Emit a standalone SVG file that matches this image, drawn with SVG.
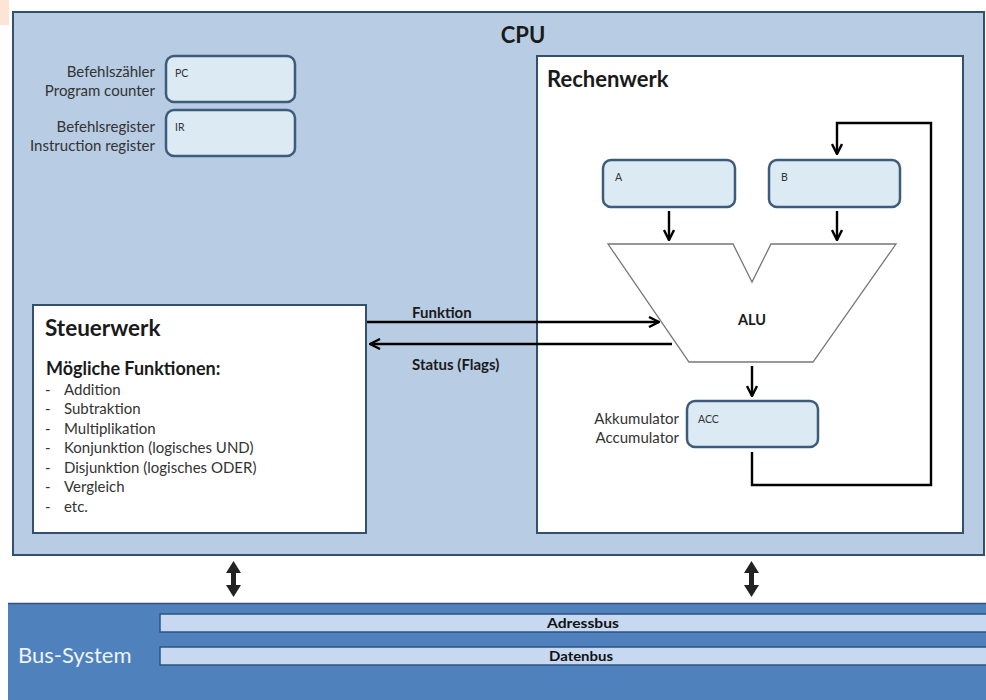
<svg xmlns="http://www.w3.org/2000/svg" width="986" height="700" viewBox="0 0 986 700">
<defs>
<style>
text{font-family:Lato,"Open Sans","Liberation Sans",sans-serif;fill:#1a1a1a}
.reg{fill:#dbeaf3;stroke:#3e5b7c;stroke-width:2.5}
.lbl{font-size:15px;text-anchor:end;fill:#333}
.small{font-size:10.5px;fill:#333}
.b{font-weight:bold}
.wire{fill:none;stroke:#000;stroke-width:2.4}
.item{font-size:15px;fill:#333}
.bar{fill:#c6d9f0;stroke:#2f5384;stroke-width:1.5}
.bartxt{font-size:13px;font-weight:bold;fill:#111}
</style>
<marker id="ah" viewBox="0 0 12 12" refX="11" refY="6" markerWidth="12" markerHeight="12" markerUnits="userSpaceOnUse" orient="auto">
<path d="M1,1 L11,6 L1,11" fill="none" stroke="#000" stroke-width="2.4"/>
</marker>
</defs>
<rect x="0" y="0" width="986" height="700" fill="#ffffff"/>
<rect x="0" y="0" width="9" height="25" fill="#fde4d4"/>
<g id="cpu">
<rect x="13" y="12" width="971" height="543" fill="#b8cce4" stroke="#34506f" stroke-width="2"/>
<text x="523" y="43" font-size="22" class="b" text-anchor="middle">CPU</text>
</g>
<g id="pc">
<text class="lbl" x="155" y="77">Befehlszähler</text>
<text class="lbl" x="155" y="96">Program counter</text>
<rect class="reg" x="166" y="56" width="129" height="46" rx="8"/>
<text class="small" x="175" y="77">PC</text>
</g>
<g id="ir">
<text class="lbl" x="155" y="132">Befehlsregister</text>
<text class="lbl" x="155" y="151">Instruction register</text>
<rect class="reg" x="166" y="110" width="129" height="46" rx="8"/>
<text class="small" x="175" y="131">IR</text>
</g>
<g id="rechenwerk">
<rect x="537" y="56" width="426" height="477" fill="#ffffff" stroke="#34506f" stroke-width="2"/>
<text x="547" y="87" font-size="22" class="b">Rechenwerk</text>
</g>
<g id="regA">
<rect class="reg" x="603" y="160" width="132" height="47" rx="8"/>
<text class="small" x="615" y="181">A</text>
</g>
<g id="regB">
<rect class="reg" x="769" y="160" width="131" height="47" rx="8"/>
<text class="small" x="781" y="181">B</text>
</g>
<g id="alu">
<polygon points="608,244 733,244 752,282 771,244 896,244 813,362 689,362" fill="#ffffff" stroke="#777" stroke-width="1.3"/>
<text x="752" y="325" font-size="14.5" class="b" text-anchor="middle">ALU</text>
</g>
<g id="acc">
<text class="lbl" x="679" y="424">Akkumulator</text>
<text class="lbl" x="679" y="443">Accumulator</text>
<rect class="reg" x="687" y="401" width="131" height="46" rx="8"/>
<text class="small" x="698" y="423">ACC</text>
</g>
<g id="steuerwerk">
<rect x="33" y="305" width="333" height="228" fill="#ffffff" stroke="#34506f" stroke-width="2"/>
<text x="45" y="336" font-size="22.5" class="b">Steuerwerk</text>
<text x="46" y="375" font-size="18" class="b">Mögliche Funktionen:</text>
<text x="45" y="395" class="item">-</text><text x="64" y="395" class="item">Addition</text>
<text x="45" y="414" class="item">-</text><text x="64" y="414" class="item">Subtraktion</text>
<text x="45" y="434" class="item">-</text><text x="64" y="434" class="item">Multiplikation</text>
<text x="45" y="453" class="item">-</text><text x="64" y="453" class="item">Konjunktion  (logisches UND)</text>
<text x="45" y="473" class="item">-</text><text x="64" y="473" class="item">Disjunktion (logisches ODER)</text>
<text x="45" y="492" class="item">-</text><text x="64" y="492" class="item">Vergleich</text>
<text x="45" y="512" class="item">-</text><text x="64" y="512" class="item">etc.</text>
</g>
<g id="bus">
<rect x="8" y="603" width="978" height="97" fill="#4f81bd"/>
<line x1="8" y1="603.5" x2="986" y2="603.5" stroke="#2f5384" stroke-width="1.5"/>
<text x="18" y="663" font-size="22" style="fill:#eef3fa">Bus-System</text>
<rect class="bar" x="160" y="614" width="830" height="18"/>
<text class="bartxt" x="547" y="628" textLength="72" lengthAdjust="spacingAndGlyphs">Adressbus</text>
<rect class="bar" x="160" y="647" width="830" height="18"/>
<text class="bartxt" x="549" y="661" textLength="64" lengthAdjust="spacingAndGlyphs">Datenbus</text>
</g>
<g id="connectors">
<line class="wire" x1="669" y1="211" x2="669" y2="240" marker-end="url(#ah)"/>
<line class="wire" x1="837" y1="211" x2="837" y2="240" marker-end="url(#ah)"/>
<line class="wire" x1="752" y1="366" x2="752" y2="396" marker-end="url(#ah)"/>
<polyline class="wire" points="752,452 752,485 931,485 931,123 837,123 837,154" marker-end="url(#ah)"/>
<line class="wire" x1="367" y1="322" x2="659" y2="322" marker-end="url(#ah)"/>
<line class="wire" x1="672" y1="344" x2="370" y2="344" marker-end="url(#ah)"/>
<text x="412" y="318" font-size="15" class="b">Funktion</text>
<text x="412" y="370" font-size="15" class="b">Status (Flags)</text>
<g fill="#222">
<rect x="231" y="571" width="5" height="16"/>
<polygon points="226,573 233.5,561 241,573"/>
<polygon points="226,585 233.5,597 241,585"/>
<rect x="749" y="571" width="5" height="16"/>
<polygon points="744,573 751.5,561 759,573"/>
<polygon points="744,585 751.5,597 759,585"/>
</g>
</g>
</svg>
